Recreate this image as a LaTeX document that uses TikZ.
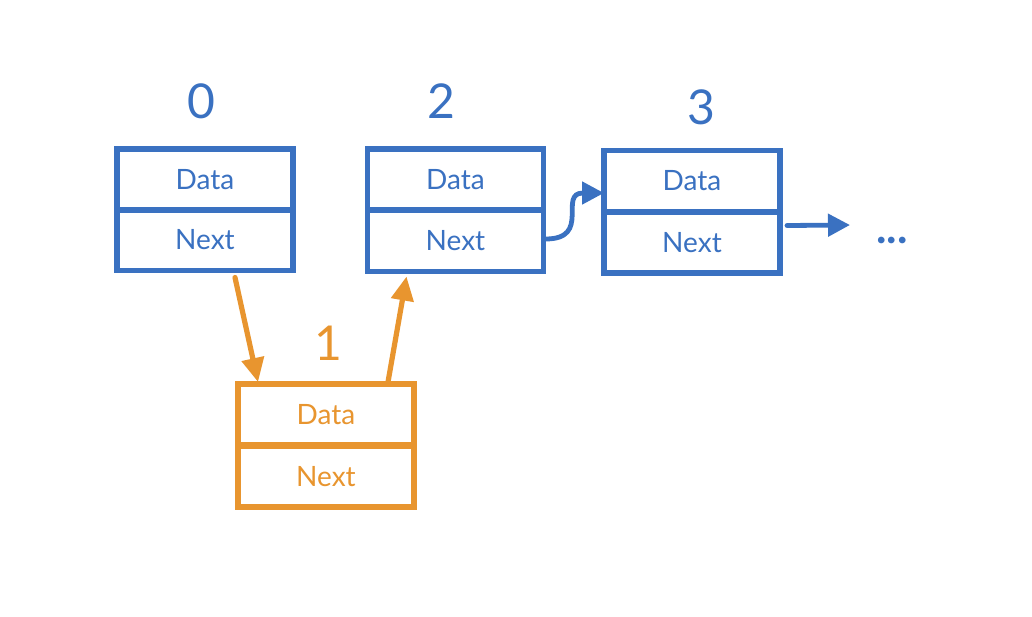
\documentclass[tikz,border=0pt]{standalone}
\usepackage{fontspec}
\setmainfont{Lato}
\usetikzlibrary{arrows.meta,calc}
\definecolor{lblue}{HTML}{3A71C1}
\definecolor{lorange}{HTML}{E8952F}
\begin{document}
\begin{tikzpicture}[x=0.5pt,y=-0.5pt,
  cell/.style={draw,rectangle,line width=2.6pt,minimum width=88pt,minimum height=30.5pt,inner sep=0pt,outer sep=0pt,font=\fontsize{14}{16}\selectfont},
  bluecell/.style={cell,draw=lblue,text=lblue},
  orangecell/.style={cell,draw=lorange,text=lorange},
  idx/.style={font=\fontsize{24}{27}\selectfont},
  barrow/.style={draw=lblue,line width=2.4pt,line cap=round,-{Triangle[length=11pt,width=11pt]}},
  oarrow/.style={draw=lorange,line width=2.6pt,line cap=round,-{Triangle[length=12pt,width=11pt]}},
]
\useasboundingbox[fill=white] (0,0) rectangle (1032,616);
% node 0
\node[bluecell] (d0) at (205,179.5) {Data};
\node[bluecell] (n0) at (205,240) {Next};
\node[idx,text=lblue] (l0) at (201,101) {0};
% node 2
\node[bluecell] (d2) at (455.5,179.5) {Data};
\node[bluecell] (n2) at (455.5,241) {Next};
\node[idx,text=lblue] (l2) at (441,101) {2};
% node 3
\node[bluecell] (d3) at (692,181) {Data};
\node[bluecell] (n3) at (692,242.5) {Next};
\node[idx,text=lblue] (l3) at (701,107) {3};
% node 1
\node[orangecell] (d1) at (326,414.5) {Data};
\node[orangecell] (n1) at (326,476.5) {Next};
\node[idx,text=lorange] (l1) at (328,343) {1};
% dots
\node[text=lblue,font=\fontsize{22}{24}\selectfont\bfseries,anchor=base,inner sep=0pt] (dots) at (892,243) {...};
\coordinate (e3) at (850,225);
% connectors
\draw[oarrow] ($(n0.south)+(30,7)$) -- ($(d1.north)+(-68,-2)$);
\draw[oarrow] ($(d1.north)+(62,-2)$) -- ($(n2.south)+(-49,5)$);
\draw[barrow] ($(n2.east)+(2,-2)$) to[out=0,in=180,looseness=1.6] ($(d3.west)+(0,12)$);
\draw[barrow] ($(n3.east)+(7,-17)$) -- (e3);
\end{tikzpicture}
\end{document}
